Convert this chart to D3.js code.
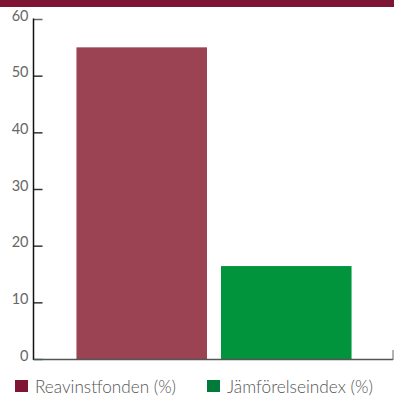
<!DOCTYPE html>
<html>
<head>
<meta charset="utf-8">
<script src="https://cdn.jsdelivr.net/npm/d3@7"></script>
<style>
  html, body { margin: 0; padding: 0; background: #fff; }
  svg { display: block; }
  text { font-family: "Lato", "Open Sans", sans-serif; }
</style>
</head>
<body>
<svg id="chart" width="394" height="397"></svg>
<script>
// Series and axis values
const categories = ["Reavinstfonden (%)", "Jämförelseindex (%)"];
const values = [55, 16.4];
const barColors = ["#9c4353", "#01943c"];
const legendColors = ["#7f1535", "#017a3a"];
const yTicks = [0, 10, 20, 30, 40, 50, 60];

const svg = d3.select("#chart");
const W = 394;
const margin = { left: 33.5, right: 393, top: 19, bottom: 359 };

// Header band
svg.append("rect").attr("x", 0).attr("y", 0).attr("width", W).attr("height", 7).attr("fill", "#7f1535");

const y = d3.scaleLinear().domain([0, 60]).range([margin.bottom, margin.top]);
const x = d3.scaleBand().domain(categories).range([62, 366]).paddingInner(0.097).paddingOuter(0.1);

// Bars
svg.append("g").selectAll("rect").data(categories).join("rect")
  .attr("x", d => x(d))
  .attr("width", x.bandwidth())
  .attr("y", (d, i) => y(values[i]))
  .attr("height", (d, i) => y(0) - y(values[i]))
  .attr("fill", (d, i) => barColors[i]);

// Y axis with inward ticks
const yAxis = svg.append("g").attr("transform", `translate(${margin.left},0)`)
  .call(d3.axisRight(y).tickValues(yTicks).tickSize(9).tickFormat(""));
yAxis.select(".domain").remove();
yAxis.selectAll(".tick line").attr("stroke", "#333").attr("stroke-width", 1.5);
yAxis.append("line").attr("x1", 0).attr("x2", 0).attr("y1", margin.top - 0.5).attr("y2", margin.bottom + 1)
  .attr("stroke", "#111").attr("stroke-width", 1.5);
yAxis.selectAll(".tick").filter(d => d === 60).select("line").attr("stroke", "#666");
yAxis.selectAll(".tick").filter(d => d === 0).select("line").attr("stroke", "#2a8a4a");

// Tick labels
svg.append("g").selectAll("text").data(yTicks).join("text")
  .attr("x", 28.5)
  .attr("y", d => y(d) + 1.5)
  .attr("text-anchor", "end")
  .attr("font-size", 14.5)
  .attr("font-weight", 400)
  .attr("fill", "#666")
  .text(d => d);

// X axis baseline
svg.append("line").attr("x1", margin.left).attr("x2", margin.right)
  .attr("y1", margin.bottom + 0.5).attr("y2", margin.bottom + 0.5)
  .attr("stroke", "#555").attr("stroke-width", 1.5);
svg.append("line").attr("x1", margin.right).attr("x2", margin.right)
  .attr("y1", margin.bottom - 9).attr("y2", margin.bottom + 1)
  .attr("stroke", "#666").attr("stroke-width", 1);

// Legend
const legendX = [15, 207];
const legendW = [141, 146];
const legend = svg.append("g").selectAll("g").data(categories).join("g")
  .attr("transform", (d, i) => `translate(${legendX[i]},380)`);
legend.append("rect").attr("width", 13).attr("height", 12).attr("fill", (d, i) => legendColors[i]);
legend.append("text").attr("x", 20).attr("y", 12.7)
  .attr("font-size", 17.5).attr("font-weight", 300).attr("fill", "#555")
  .attr("textLength", (d, i) => legendW[i])
  .attr("lengthAdjust", "spacingAndGlyphs")
  .text(d => d);
</script>
</body>
</html>
